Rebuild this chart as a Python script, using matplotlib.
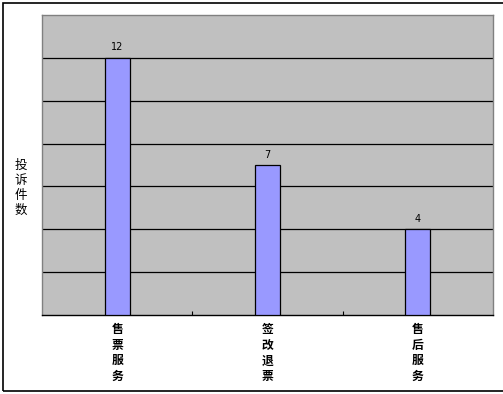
import numpy as np
import matplotlib.pyplot as plt
from matplotlib.patches import Rectangle

plt.rcParams['font.family'] = ['Noto Sans CJK SC', 'DejaVu Sans']

categories = ["售票服务", "签改退票", "售后服务"]
counts = [12, 7, 4]
ylabel = "投诉件数"

fig = plt.figure(figsize=(5.03, 3.94), dpi=100)
ax = fig.add_axes([42 / 503, 79 / 394, 451 / 503, 300 / 394])

# outer frame of the chart
fig.patches.append(Rectangle((3 / 503, 3 / 394), 1.2, 388 / 394, transform=fig.transFigure,
                             fill=False, edgecolor='black', linewidth=1.2))

x = np.arange(len(categories))
ax.set_facecolor('#C0C0C0')
ax.bar(x, counts, width=0.165, color='#9999FF', edgecolor='black', linewidth=0.9, zorder=3)
for xi, c in zip(x, counts):
    ax.text(xi, c + 0.25, str(c), ha='center', va='bottom', fontsize=7, family='DejaVu Sans')

ax.set_xlim(-0.5, len(categories) - 0.5)
ax.set_ylim(0, 14)
ax.set_yticks(np.arange(2, 14, 2))
ax.yaxis.grid(True, color='black', linewidth=0.9, zorder=1)
ax.tick_params(axis='y', length=0, labelleft=False)

ax.set_xticks(x)
ax.set_xticklabels(["\n".join(c) for c in categories], fontsize=8.5, fontweight='bold',
                   linespacing=1.25)
ax.tick_params(axis='x', which='major', length=0, pad=6)
ax.set_xticks(np.arange(0.5, len(categories) - 0.5, 1), minor=True)
ax.tick_params(axis='x', which='minor', length=3, direction='in', width=0.8)

for side in ('top', 'right', 'left'):
    ax.spines[side].set_color('#808080')
    ax.spines[side].set_linewidth(1.0)
ax.spines['bottom'].set_color('black')
ax.spines['bottom'].set_linewidth(1.0)

fig.text(21 / 503, 1 - 188 / 394, "\n".join(ylabel), ha='center', va='center',
         fontsize=9, linespacing=1.2)

plt.savefig("out.png", dpi=100)
